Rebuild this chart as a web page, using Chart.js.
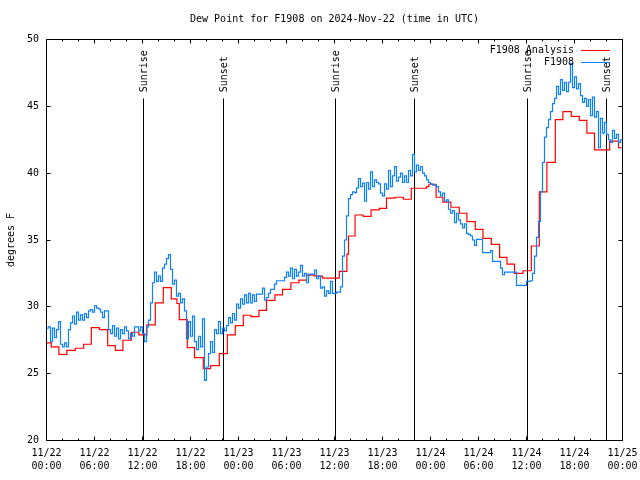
<!DOCTYPE html>
<html>
<head>
<meta charset="utf-8">
<script src="https://cdn.jsdelivr.net/npm/chart.js@4.4.0/dist/chart.umd.min.js"></script>
<style>
  html, body { margin: 0; padding: 0; background: #fff; }
</style>
</head>
<body>
<canvas id="dewChart" width="640" height="480"></canvas>
<script>
// hours since 2024-11-22 00:00 UTC
const redHours = [0, 0.6, 1.55, 2.55, 3.6, 4.65, 5.6, 6.6, 7.65, 8.6, 9.55, 10.6, 11.55,
  12.55, 13.6, 14.6, 15.6, 16.3, 16.6, 17.6, 18.5, 19.6, 20.5, 21.6, 22.6, 23.6,
  24.6, 25.55, 26.55, 27.5, 28.55, 29.5, 30.55, 31.55, 32.5, 33.55, 34.5, 36.6,
  37.55, 37.75, 38.57, 39.6, 40.57, 41.6, 42.5, 43.57, 44.6, 45.6, 47.5, 47.8,
  48.7, 49.55, 50.55, 51.6, 52.55, 53.6, 54.56, 55.6, 56.64, 57.56, 58.5, 59.56,
  60.6, 61.6, 62.55, 63.6, 64.55, 65.6, 66.6, 67.55, 68.5, 70.4, 71.5, 72];
const redDewPt = [27.3, 27.0, 26.45, 26.75, 26.9, 27.2, 28.45, 28.3, 27.1, 26.75, 27.5, 28.1, 27.9,
  28.65, 30.3, 31.43, 30.6, 30.25, 29.05, 26.95, 26.2, 25.37, 25.6, 26.5, 27.9, 28.6,
  29.37, 29.27, 29.73, 30.48, 30.9, 31.3, 31.8, 32.0, 32.37, 32.3, 32.15, 32.65,
  33.95, 35.3, 36.87, 36.77, 37.25, 37.37, 38.13, 38.2, 38.05, 38.87, 39.0, 39.17,
  38.2, 37.83, 37.45, 37.0, 36.37, 35.8, 35.12, 34.67, 33.7, 33.2, 32.5, 32.7,
  34.55, 38.6, 40.8, 44.0, 44.6, 44.25, 43.95, 43.0, 41.75, 42.4, 41.9, 41.9];

// station readings, one every quarter hour from 00:00
const obsStepHrs = 0.25;
const obsDewPt = [
  28.4, 28.5, 27.4, 28.4, 27.7, 28.3, 28.9, 27.2,
  27.0, 27.3, 27.0, 28.3, 28.8, 29.3, 28.7, 29.6,
  29.0, 29.4, 29.0, 29.5, 29.2, 29.7, 29.8, 29.6,
  30.1, 29.9, 29.85, 29.6, 29.2, 29.7, 29.7, 28.3,
  28.0, 28.6, 27.8, 28.4, 27.6, 28.3, 28.0, 28.5,
  28.2, 27.6, 28.0, 27.8, 28.5, 28.5, 28.2, 28.5,
  28.0, 27.4, 28.5, 29.0, 30.3, 31.8, 32.6, 31.9,
  32.3, 31.9, 32.9, 33.2, 33.6, 33.9, 32.8, 31.7,
  32.0, 30.8, 31.0, 30.3, 30.6, 29.7, 27.6, 28.9,
  27.8, 29.3, 27.4, 26.8, 27.8, 27.0, 29.1, 24.5,
  25.5, 26.5, 27.4, 26.6, 28.3, 28.0, 28.9, 28.0,
  28.4, 28.2, 28.6, 29.2, 28.8, 29.5, 29.0, 30.2,
  29.9, 30.6, 30.2, 30.9, 30.3, 31.0, 30.3, 30.9,
  30.4, 30.95, 30.95, 30.95, 31.4, 30.5, 30.7, 31.0,
  31.3, 31.3, 31.7, 31.95, 31.95, 31.95, 31.95, 32.2,
  32.6, 32.3, 32.9, 32.1, 32.8, 32.3, 32.6, 33.1,
  32.3, 32.5, 31.8, 32.45, 32.45, 32.45, 32.75, 32.1,
  32.3, 31.4, 31.5, 30.8, 31.2, 31.0, 31.9, 31.0,
  31.0, 31.1, 31.1, 31.5, 33.8, 35.0, 36.8, 38.1,
  38.4, 38.6, 38.55, 38.9, 39.6, 39.0, 39.25, 37.9,
  39.3, 38.8, 40.1, 39.0, 39.5, 39.3, 39.2, 38.5,
  38.3, 39.2, 38.8, 40.2, 39.0, 39.8, 40.5, 39.4,
  39.7, 40.0, 39.3, 39.8, 39.3, 40.2, 39.8, 41.4,
  40.1, 40.6, 40.2, 40.5, 40.0, 39.8, 39.5, 39.3,
  39.2, 39.1, 39.1, 39.0, 38.6, 38.3, 38.5, 37.9,
  38.0, 37.3, 37.0, 37.2, 36.3, 37.0, 36.5, 36.2,
  35.9, 36.2, 35.5, 35.4, 35.3, 35.0, 34.6, 35.05,
  35.05, 35.05, 34.05, 34.05, 34.05, 34.05, 34.2, 33.4,
  33.4, 33.4, 33.4, 32.9, 32.4, 32.6, 32.6, 32.6,
  32.6, 32.6, 32.6, 31.6, 31.6, 31.6, 31.6, 31.6,
  31.9, 31.9, 31.95, 32.5, 33.8, 35.2, 36.4, 38.6,
  40.8, 42.7, 43.4, 44.0, 44.6, 45.2, 45.6, 46.5,
  45.9, 47.0, 46.2, 46.8, 46.1, 46.8, 48.2, 46.4,
  47.2, 46.3, 46.7, 45.8, 45.3, 45.6, 45.0, 45.5,
  44.3, 45.7, 44.2, 44.6, 41.9, 44.1, 43.0, 43.8,
  42.9, 42.5, 42.3, 43.2, 42.6, 42.9, 42.3, 42.5,
  42.0];

const sunriseHours = [12.1, 36.1, 60.1];
const sunsetHours = [22.1, 46.0, 70.0];
const dayLabels = ['11/22', '11/23', '11/24', '11/25'];

const monoFont = { family: '"DejaVu Sans Mono", monospace', size: 10 };
const monoCss = '10px "DejaVu Sans Mono", monospace';

// gnuplot style frame: box, inward tics, sun markers, key inside the plot
const gnuplotFrame = {
  id: 'gnuplotFrame',
  beforeDatasetsDraw(chart) {
    const { ctx, chartArea: a, scales: { x, y } } = chart;
    const lineTop = Math.floor(y.getPixelForValue(45.6)) + 0.5;
    const textY = y.getPixelForValue(46.05);
    ctx.save();
    ctx.strokeStyle = '#000';
    ctx.fillStyle = '#000';
    ctx.lineWidth = 1;
    ctx.font = monoCss;
    ctx.textAlign = 'left';
    ctx.textBaseline = 'middle';
    const mark = (h, txt) => {
      const px = Math.floor(x.getPixelForValue(h)) + 0.5;
      ctx.beginPath();
      ctx.moveTo(px, a.bottom);
      ctx.lineTo(px, lineTop);
      ctx.stroke();
      ctx.save();
      ctx.translate(px + 1, textY);
      ctx.rotate(-Math.PI / 2);
      ctx.fillText(txt, 0, 0);
      ctx.restore();
    };
    sunriseHours.forEach(h => mark(h, 'Sunrise'));
    sunsetHours.forEach(h => mark(h, 'Sunset'));
    ctx.restore();
  },
  afterDraw(chart) {
    const { ctx, chartArea: a, scales: { x, y } } = chart;
    ctx.save();
    ctx.strokeStyle = '#000';
    ctx.lineWidth = 1;
    ctx.beginPath();
    for (let h = 0; h <= 72; h += 2) {
      const px = Math.floor(x.getPixelForValue(h)) + 0.5;
      const len = h % 6 === 0 ? 4 : 2;
      ctx.moveTo(px, a.bottom); ctx.lineTo(px, a.bottom - len);
      ctx.moveTo(px, a.top); ctx.lineTo(px, a.top + len);
    }
    for (let v = 20; v <= 50; v += 5) {
      const py = Math.floor(y.getPixelForValue(v)) + 0.5;
      ctx.moveTo(a.left, py); ctx.lineTo(a.left + 4, py);
      ctx.moveTo(a.right, py); ctx.lineTo(a.right - 4, py);
    }
    ctx.stroke();
    ctx.strokeRect(a.left, a.top, a.right - a.left, a.bottom - a.top);

    // key
    ctx.font = monoCss;
    ctx.textAlign = 'right';
    ctx.textBaseline = 'middle';
    chart.data.datasets.forEach((ds, i) => {
      const ly = a.top + 11 + i * 12;
      ctx.fillStyle = '#000';
      ctx.fillText(ds.label, a.right - 48.5, ly);
      ctx.strokeStyle = ds.borderColor;
      ctx.lineWidth = 1;
      ctx.beginPath();
      ctx.moveTo(a.right - 41.5, ly);
      ctx.lineTo(a.right - 12.5, ly);
      ctx.stroke();
    });
    ctx.restore();
  }
};

const ctx = document.getElementById('dewChart').getContext('2d');
new Chart(ctx, {
  type: 'line',
  data: {
    datasets: [{
      label: 'F1908 Analysis',
      data: redHours.map((h, i) => ({ x: h, y: redDewPt[i] })),
      borderColor: '#ff0000',
      borderWidth: 1.2,
      pointRadius: 0,
      stepped: true,
      order: 2
    }, {
      label: 'F1908',
      data: obsDewPt.map((v, i) => ({ x: i * obsStepHrs, y: v })),
      borderColor: '#0c80ff',
      borderWidth: 1.2,
      pointRadius: 0,
      stepped: true,
      order: 1
    }]
  },
  options: {
    responsive: false,
    animation: false,
    layout: { padding: { left: 0, right: 17.5, top: 0, bottom: 0 } },
    plugins: {
      legend: { display: false },
      tooltip: { enabled: false },
      title: {
        display: true,
        text: 'Dew Point for F1908 on 2024-Nov-22 (time in UTC)',
        fullSize: false,
        color: '#000',
        font: { ...monoFont, weight: 'normal', lineHeight: 1.2 },
        padding: { top: 13, bottom: 14.5 }
      }
    },
    scales: {
      x: {
        type: 'linear',
        min: 0,
        max: 72,
        grid: { display: false, drawTicks: false },
        border: { display: false },
        ticks: {
          stepSize: 6,
          autoSkip: false,
          maxRotation: 0,
          padding: 6.5,
          color: '#000',
          font: { ...monoFont, lineHeight: 1.3 },
          callback: v => [dayLabels[Math.floor(v / 24)], String(v % 24).padStart(2, '0') + ':00']
        },
        afterFit: s => { s.height = 39.5; s.paddingLeft = 0; s.paddingRight = 0; }
      },
      y: {
        min: 20,
        max: 50,
        grid: { display: false, drawTicks: false },
        border: { display: false },
        ticks: { stepSize: 5, padding: 7.5, color: '#000', font: monoFont },
        title: {
          display: true,
          text: 'degrees F',
          color: '#000',
          font: { ...monoFont, lineHeight: 1.2 },
          padding: { top: 5, bottom: 0 }
        },
        afterFit: s => { s.width = 46.5; }
      }
    }
  },
  plugins: [gnuplotFrame]
});
</script>
</body>
</html>
